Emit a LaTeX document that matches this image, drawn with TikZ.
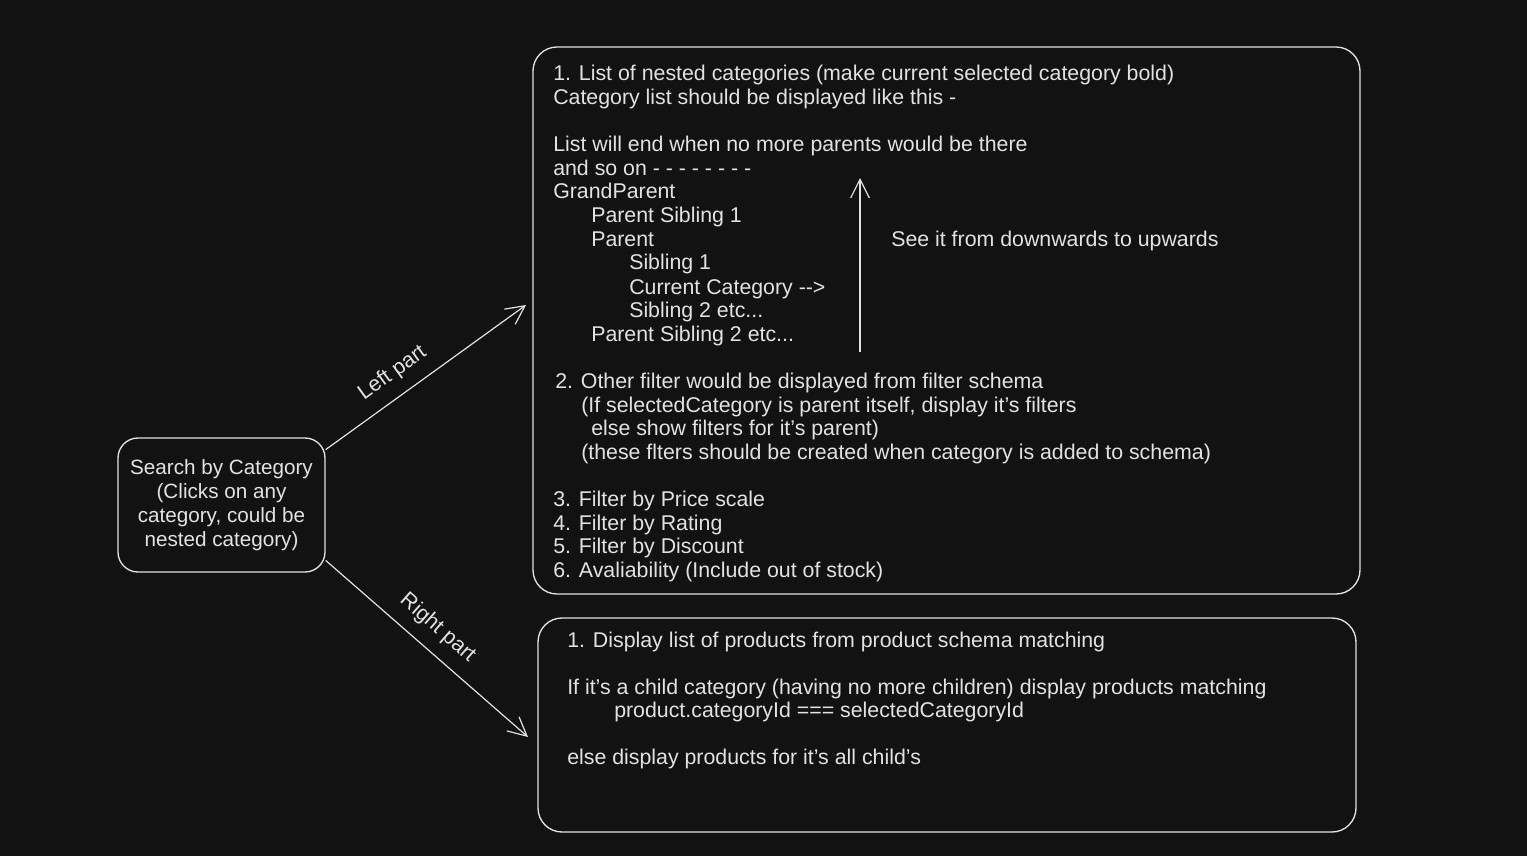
\documentclass[tikz,border=0pt]{standalone}
\usepackage{fontspec}
\setmainfont{Liberation Sans}
\usetikzlibrary{arrows.meta}
\definecolor{board}{HTML}{121212}
\definecolor{chalk}{HTML}{E2E2E2}
\tikzset{
  frame/.style={draw=chalk,line width=1pt,rounded corners=18pt,inner sep=0pt},
  txt/.style={text=chalk,anchor=base west,inner sep=0pt,font=\fontsize{16}{18}\selectfont,yshift=-5.25pt},
  arr/.style={draw=chalk,line width=0.9pt,-{Straight Barb[length=14pt,width=14pt,line width=0.9pt]}},
  lbl/.style={text=chalk,font=\fontsize{16}{18}\selectfont,sloped,inner sep=0pt}
}
\begin{document}
\begin{tikzpicture}[x=0.75pt,y=-0.75pt]
\fill[board] (0,0) rectangle (1527,856);
\useasboundingbox (0,0) rectangle (1527,856);

% boxes
\node[frame,minimum width=155.25pt,minimum height=100.5pt,rounded corners=15pt,align=center,text=chalk,
  font=\fontsize{15.5}{18}\selectfont] (search) at (221.5,505)
  {Search by Category\\(Clicks on any\\category, could be\\nested category)};
\node[frame,minimum width=620.25pt,minimum height=410.25pt] (leftbox) at (946.5,320.5) {};
\node[frame,minimum width=613.5pt,minimum height=160.5pt] (rightbox) at (947,725) {};

% left part
\node[txt] (t1) at (553,73) {1. List of nested categories (make current selected category bold)};
\node[txt] (t2) at (553,97) {Category list should be displayed like this -};
\node[txt] (t3) at (553,144) {List will end when no more parents would be there};
\node[txt] (t4) at (553,168) {and so on - - - - - - - -};
\node[txt] (t5) at (553,191) {GrandParent};
\node[txt] (t6) at (591,215) {Parent Sibling 1};
\node[txt] (t7) at (591,239) {Parent};
\node[txt] (t8) at (629,262) {Sibling 1};
\node[txt] (t9) at (629,287) {Current Category -{}->};
\node[txt] (t10) at (629,310) {Sibling 2 etc...};
\node[txt] (t11) at (591,334) {Parent Sibling 2 etc...};
\node[txt] (hint) at (891,239) {See it from downwards to upwards};
\node[txt] (t12) at (555,381) {2. Other filter would be displayed from filter schema};
\node[txt] (t13) at (581,405) {(If selectedCategory is parent itself, display it's filters};
\node[txt] (t14) at (591,428) {else show filters for it's parent)};
\node[txt] (t15) at (581,452) {(these flters should be created when category is added to schema)};
\node[txt] (t16) at (553,499) {3. Filter by Price scale};
\node[txt] (t17) at (553,523) {4. Filter by Rating};
\node[txt] (t18) at (553,546) {5. Filter by Discount};
\node[txt] (t19) at (553,570) {6. Avaliability (Include out of stock)};

% right part
\node[txt] (r1) at (567,640) {1. Display list of products from product schema matching};
\node[txt] (r2) at (567,687) {If it's a child category (having no more children) display products matching};
\node[txt] (r3) at (614,710) {product.categoryId === selectedCategoryId};
\node[txt] (r4) at (567,757) {else display products for it's all child's};

% arrows
\coordinate (lefttip) at (526,305);
\coordinate (righttip) at (528,737);
\coordinate (upfoot) at (860,352);
\coordinate (uphead) at (860,178);
\draw[arr] (search.28) -- node[lbl,pos=0.40,above=9pt] (leftlbl) {Left part} (lefttip);
\draw[arr] (search.-28) -- node[lbl,pos=0.48,above=9pt] (rightlbl) {Right part} (righttip);
\draw[arr] (upfoot) -- (uphead);
\end{tikzpicture}
\end{document}
